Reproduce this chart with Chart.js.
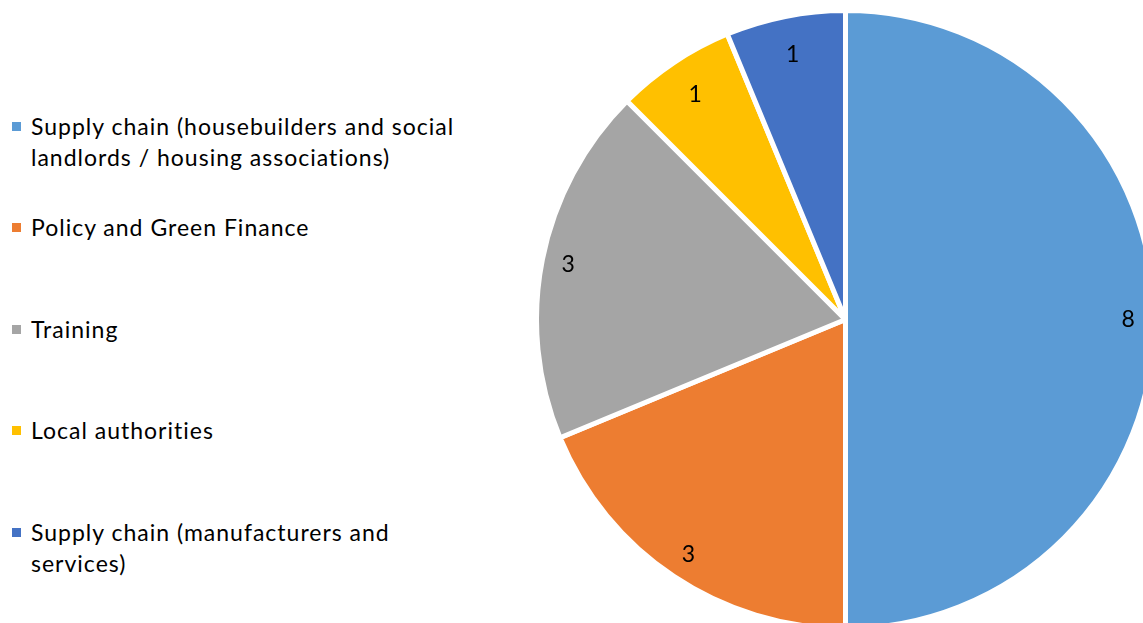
<!DOCTYPE html>
<html>
<head>
<meta charset="utf-8">
<script src="https://cdn.jsdelivr.net/npm/chart.js@4/dist/chart.umd.min.js"></script>
<style>
  html, body { margin: 0; padding: 0; background: #fff; overflow: hidden; }
  body { width: 1143px; height: 623px; position: relative; font-family: Lato, "Noto Sans", sans-serif; }
  #pieBox { position: absolute; left: 534px; top: 8px; width: 623px; height: 623px; }
  #legend { position: absolute; left: 0; top: 0; }
  .item { position: absolute; left: 12px; width: 462px; font-size: 23px; line-height: 31px; color: #000;
          letter-spacing: 1px; font-variant-ligatures: none; }
  .item .box { position: absolute; left: 0; top: 11px; width: 9px; height: 9px; }
  .item .txt { margin-left: 19px; }
</style>
</head>
<body>
<div id="legend"></div>
<div id="pieBox"><canvas id="Grafico"></canvas></div>
<script>
'use strict';
// dados do gráfico
const categorias = [
  'Supply chain (housebuilders and social landlords / housing associations)',
  'Policy and Green Finance',
  'Training',
  'Local authorities',
  'Supply chain (manufacturers and services)'
];
const valores = [8, 3, 3, 1, 1];
const cores = ['#5B9BD5', '#ED7D31', '#A5A5A5', '#FFC000', '#4472C4'];

// legenda em html (texto quebra em duas linhas)
const legendTops = [111, 212, 314, 415, 517];
const legendEl = document.getElementById('legend');
categorias.forEach((nome, i) => {
  const div = document.createElement('div');
  div.className = 'item';
  div.style.top = legendTops[i] + 'px';
  div.innerHTML = `<span class="box" style="background:${cores[i]}"></span><div class="txt"></div>`;
  div.querySelector('.txt').textContent = nome;
  legendEl.appendChild(div);
});

// rótulos com os valores dentro das fatias
const rotulos = {
  id: 'rotulos',
  afterDatasetsDraw(chart) {
    const ctx = chart.ctx;
    const meta = chart.getDatasetMeta(0);
    ctx.save();
    ctx.font = '23px Lato, "Noto Sans", sans-serif';
    ctx.fillStyle = '#000';
    ctx.textAlign = 'center';
    ctx.textBaseline = 'middle';
    meta.data.forEach((arc, i) => {
      const p = arc.getProps(['x', 'y', 'startAngle', 'endAngle', 'outerRadius'], true);
      const meio = (p.startAngle + p.endAngle) / 2;
      const r = p.outerRadius * (valores[i] < 2 ? 0.875 : 0.915);
      ctx.fillText(String(chart.data.datasets[0].data[i]), p.x + Math.cos(meio) * r, p.y + Math.sin(meio) * r);
    });
    ctx.restore();
  }
};

const ctx = document.getElementById('Grafico');
new Chart(ctx, {
  type: 'pie',
  data: {
    labels: categorias,
    datasets: [{
      data: valores,
      backgroundColor: cores,
      borderColor: '#fff',
      borderWidth: 5
    }]
  },
  options: {
    responsive: true,
    maintainAspectRatio: false,
    animation: false,
    layout: { padding: 0 },
    plugins: {
      legend: { display: false },
      tooltip: { enabled: false }
    }
  },
  plugins: [rotulos]
});
</script>
</body>
</html>
